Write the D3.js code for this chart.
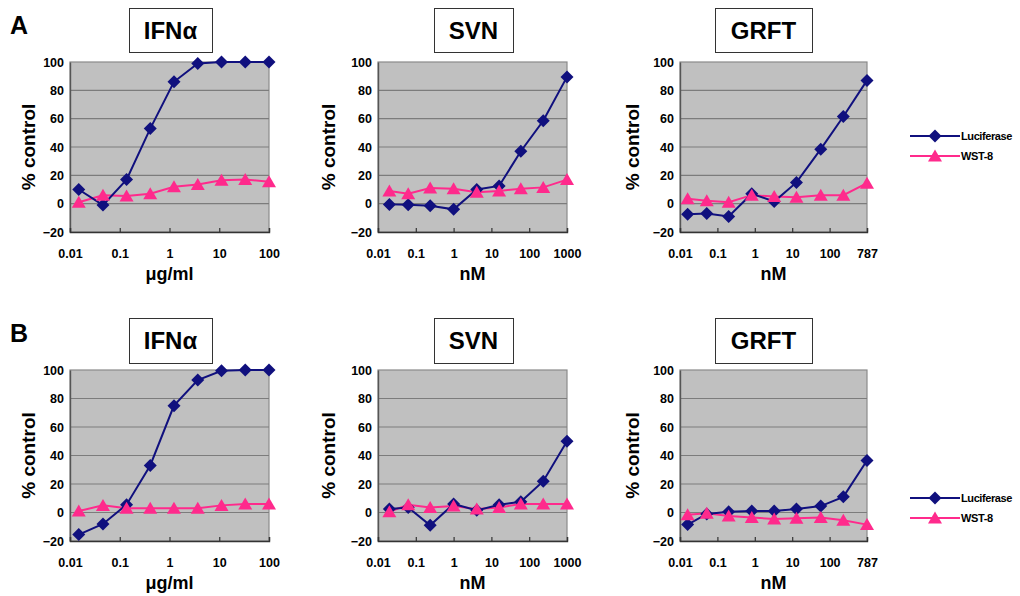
<!DOCTYPE html>
<html><head><meta charset="utf-8">
<script src="https://cdn.jsdelivr.net/npm/d3@7"></script>
<style>
html,body{margin:0;padding:0;background:#fff;}
text{font-family:"Liberation Sans",Arial,sans-serif;font-weight:bold;fill:#000;}
</style></head>
<body>
<svg id="c" width="1020" height="596"></svg>
<script>
// ---------- data ----------
const doseIFN  = [0.015, 0.046, 0.137, 0.41, 1.23, 3.7, 11.1, 33.3, 100];
const doseSVN  = [0.02, 0.063, 0.24, 1.0, 4.1, 16, 60, 235, 1000];
const doseGRFT = [0.016, 0.052, 0.2, 0.83, 3.3, 13, 58, 233, 1000];

const ticksIFN  = [0.01, 0.1, 1, 10, 100];
const tickLabelsIFN = ["0.01", "0.1", "1", "10", "100"];
const ticksSVN  = [0.01, 0.1, 1, 10, 100, 1000];
const tickLabelsSVN = ["0.01", "0.1", "1", "10", "100", "1000"];
const ticksGRFT = [0.01, 0.1, 1, 10, 100, 1000];
const tickLabelsGRFT = ["0.01", "0.1", "1", "10", "100", "787"];

const yTicks = [-20, 0, 20, 40, 60, 80, 100];

const lucA_IFN  = [10, -1, 17, 53, 86, 99, 100, 100, 100];
const wstA_IFN  = [1, 6, 5.5, 7, 12, 13.5, 16.5, 17, 15.5];
const lucA_SVN  = [-0.5, -0.7, -1.5, -4, 10, 12.5, 37, 58.5, 89.5];
const wstA_SVN  = [9, 7, 11, 10.5, 8, 9, 10.5, 11.5, 17];
const lucA_GRFT = [-7.5, -7, -9, 7, 1.5, 15, 38.5, 61.5, 87];
const wstA_GRFT = [3.5, 2, 1, 6, 5, 4.5, 6, 6, 14.5];

const lucB_IFN  = [-15.5, -8, 5.5, 33, 75, 93, 99.5, 100, 100];
const wstB_IFN  = [1, 5, 3, 3, 3, 3, 5, 6, 6];
const lucB_SVN  = [2.5, 3.5, -9, 6, 1.5, 5.5, 7.5, 22, 50];
const wstB_SVN  = [0.5, 5.5, 3.5, 4.5, 2.5, 3.5, 6, 6, 6];
const lucB_GRFT = [-8.5, -1, 0.5, 1, 1, 2.5, 4.5, 11, 36.5];
const wstB_GRFT = [-1.5, -0.5, -2.5, -3.5, -4.5, -4, -3.5, -5.5, -8.5];

const seriesNames = ["Luciferase", "WST-8"];
const panelTitles = ["IFNα", "SVN", "GRFT"];
const unitLabels = ["μg/ml", "nM", "nM"];
const rowLabels = ["A", "B"];

// ---------- layout / style ----------
const LUC = "#10107e", WST = "#ff2a8c";
const svg = d3.select("#c");

const cols = [
  {x0: 70, x1: 269, box: [129, 212], ytx: 28, dose: doseIFN, ticks: ticksIFN, labels: tickLabelsIFN, dom: [0.01, 100]},
  {x0: 378, x1: 567, box: [434, 513], ytx: 328, dose: doseSVN, ticks: ticksSVN, labels: tickLabelsSVN, dom: [0.01, 1000]},
  {x0: 680, x1: 867, box: [715, 812], ytx: 632, dose: doseGRFT, ticks: ticksGRFT, labels: tickLabelsGRFT, dom: [0.01, 1000]}
];
const rows = [
  {y0: 62, y1: 232, box: [8, 52], label: [10, 34], legY: 136,
   luc: [lucA_IFN, lucA_SVN, lucA_GRFT], wst: [wstA_IFN, wstA_SVN, wstA_GRFT]},
  {y0: 370, y1: 541, box: [318, 363], label: [10, 342], legY: 498,
   luc: [lucB_IFN, lucB_SVN, lucB_GRFT], wst: [wstB_IFN, wstB_SVN, wstB_GRFT]}
];

function drawDiamond(g, x, y) {
  g.append("path").attr("d", "M0,-6.5L6.5,0L0,6.5L-6.5,0Z").attr("transform", `translate(${x},${y})`).attr("fill", LUC);
}
function drawTri(g, x, y) {
  g.append("path").attr("d", "M0,-6.5L7,5.5L-7,5.5Z").attr("transform", `translate(${x},${y})`).attr("fill", WST);
}

rows.forEach((r, ri) => {
  svg.append("text").attr("x", r.label[0]).attr("y", r.label[1]).attr("font-size", 25).text(rowLabels[ri]);
  cols.forEach((c, ci) => {
    const g = svg.append("g");
    const x = d3.scaleLog().domain(c.dom).range([c.x0, c.x1]);
    const y = d3.scaleLinear().domain([-20, 100]).range([r.y1, r.y0]);

    // title box
    g.append("rect").attr("x", c.box[0] + 0.5).attr("y", r.box[0] + 0.5)
      .attr("width", c.box[1] - c.box[0]).attr("height", r.box[1] - r.box[0])
      .attr("fill", "#fff").attr("stroke", "#333").attr("stroke-width", 1);
    g.append("text").attr("x", (c.box[0] + c.box[1]) / 2).attr("y", (r.box[0] + r.box[1]) / 2 + 8.5)
      .attr("text-anchor", "middle").attr("font-size", 24).text(panelTitles[ci]);

    // plot area
    g.append("rect").attr("x", c.x0).attr("y", r.y0).attr("width", c.x1 - c.x0).attr("height", r.y1 - r.y0)
      .attr("fill", "#c0c0c0").attr("stroke", "#8a8a8a").attr("stroke-width", 1.2);
    // gridlines
    g.selectAll(".grid").data(yTicks.filter(v => v > -20 && v < 100)).join("line")
      .attr("x1", c.x0).attr("x2", c.x1).attr("y1", d => y(d)).attr("y2", d => y(d))
      .attr("stroke", "#7c7c7c").attr("stroke-width", 1.2);

    // y axis
    const ya = g.append("g").attr("transform", `translate(${c.x0},0)`)
      .call(d3.axisLeft(y).tickValues(yTicks).tickSize(0).tickPadding(6));
    ya.select(".domain").attr("stroke", "#555").attr("stroke-width", 1.4);
    ya.selectAll("text").attr("font-size", 12.5).attr("font-family", "Liberation Sans, Arial").attr("font-weight", "bold").attr("fill", "#000");

    // x axis
    const xa = g.append("g").attr("transform", `translate(0,${r.y1})`)
      .call(d3.axisBottom(x).tickValues(c.ticks).tickFormat((d, i) => c.labels[i]).tickSize(-4).tickPadding(17));
    xa.select(".domain").attr("stroke", "#333").attr("stroke-width", 1.4);
    xa.selectAll(".tick line").attr("stroke", "#333").attr("stroke-width", 1.2);
    xa.selectAll("text").attr("font-size", 12.5).attr("font-family", "Liberation Sans, Arial").attr("font-weight", "bold").attr("fill", "#000");

    // axis titles
    g.append("text").attr("transform", `translate(${c.ytx + 7},${(r.y0 + r.y1) / 2}) rotate(-90)`)
      .attr("text-anchor", "middle").attr("font-size", 19).text("% control");
    g.append("text").attr("x", (c.x0 + c.x1) / 2).attr("y", r.y1 + 48)
      .attr("text-anchor", "middle").attr("font-size", 18).text(unitLabels[ci]);

    // series
    const line = d3.line().x((d, i) => x(c.dose[i])).y(d => y(d));
    g.append("path").datum(r.wst[ci]).attr("d", line).attr("fill", "none").attr("stroke", WST).attr("stroke-width", 2);
    g.append("path").datum(r.luc[ci]).attr("d", line).attr("fill", "none").attr("stroke", LUC).attr("stroke-width", 2);
    r.luc[ci].forEach((v, i) => drawDiamond(g, x(c.dose[i]), y(v)));
    r.wst[ci].forEach((v, i) => drawTri(g, x(c.dose[i]), y(v)));
  });

  // legend
  const lg = svg.append("g");
  [0, 1].forEach(k => {
    const yy = r.legY + k * 20;
    lg.append("line").attr("x1", 910).attr("x2", 960).attr("y1", yy).attr("y2", yy)
      .attr("stroke", k === 0 ? LUC : WST).attr("stroke-width", 2);
    if (k === 0) drawDiamond(lg, 935, yy); else drawTri(lg, 935, yy);
    lg.append("text").attr("x", 961).attr("y", yy + 4).attr("font-size", 11)
      .attr("letter-spacing", -0.4).text(seriesNames[k]);
  });
});
</script>
</body></html>
